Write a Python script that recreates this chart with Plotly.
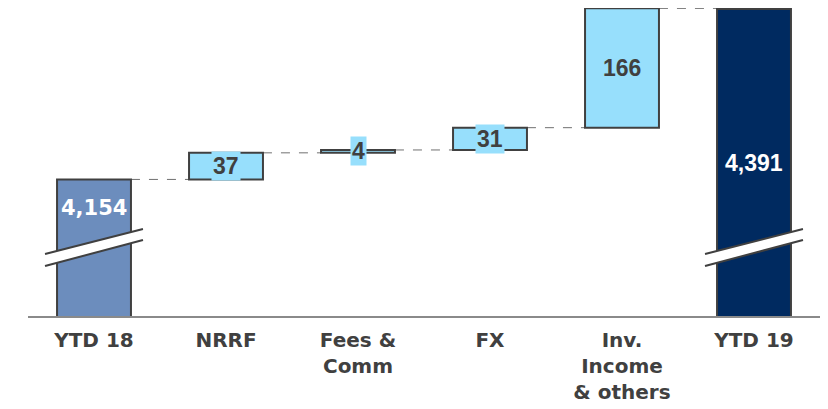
import plotly.graph_objects as go

categories = ["YTD 18", "NRRF", "Fees &<br>Comm", "FX", "Inv.<br>Income<br>& others", "YTD 19"]
start_value = 4154
deltas = [37, 4, 31, 166]
end_value = 4391
value_labels = ["4,154", "37", "4", "31", "166", "4,391"]

Y_MIN, Y_MAX = 3964, 4392.5
BAR_W = 0.56
C_START = "#6c8dbd"
C_END = "#002a60"
C_DELTA = "#97dffc"
OUTLINE = "#404040"

# cumulative bases for delta bars
bases = []
level = start_value
for d in deltas:
    bases.append(level)
    level += d

x_idx = list(range(len(categories)))
fig = go.Figure()
fig.add_trace(go.Bar(
    x=[x_idx[0], x_idx[-1]], y=[start_value, end_value],
    width=BAR_W, marker=dict(color=[C_START, C_END], line=dict(color=OUTLINE, width=2)),
    hoverinfo="skip"))
fig.add_trace(go.Bar(
    x=x_idx[1:-1], y=deltas, base=bases,
    width=BAR_W, marker=dict(color=C_DELTA, line=dict(color=OUTLINE, width=2)),
    hoverinfo="skip"))

# connectors
levels = [start_value] + [b + d for b, d in zip(bases, deltas)]
shapes = []
for i, lv in enumerate(levels):
    shapes.append(dict(type="line", xref="x", yref="y",
                       x0=i + BAR_W / 2, x1=i + 1 - BAR_W / 2, y0=lv, y1=lv,
                       line=dict(color="#707070", width=1, dash="dash"), layer="below"))

# axis break marks (screen pixel rows -> paper y; plot area spans rows 8..316)
TOP, H = 8.0, 308.0
def py(p):
    return 1 - (p - TOP) / H
half = 0.371
for xc in (x_idx[0], x_idx[-1]):
    x0, x1 = xc - half, xc + half
    ya0, ya1 = py(254), py(229)
    yb0, yb1 = py(266), py(240)
    shapes.append(dict(type="path", xref="x", yref="paper",
                       path=f"M {x0},{ya0} L {x1},{ya1} L {x1},{yb1} L {x0},{yb0} Z",
                       fillcolor="white", line=dict(width=0)))
    shapes.append(dict(type="line", xref="x", yref="paper", x0=x0, y0=ya0, x1=x1, y1=ya1,
                       line=dict(color=OUTLINE, width=2)))
    shapes.append(dict(type="line", xref="x", yref="paper", x0=x0, y0=yb0, x1=x1, y1=yb1,
                       line=dict(color=OUTLINE, width=2)))

annotations = []
annotations.append(dict(x=0, y=start_value, xref="x", yref="y", text="<b>" + value_labels[0] + "</b>",
                        showarrow=False, yshift=-29,
                        font=dict(family="DejaVu Sans", size=21, color="white")))
for i, (b, d) in enumerate(zip(bases, deltas)):
    annotations.append(dict(x=i + 1, y=b + d / 2, xref="x", yref="y",
                            text="<b>" + value_labels[i + 1] + "</b>", showarrow=False,
                            bgcolor=C_DELTA, borderpad=1,
                            font=dict(family="Liberation Sans, Arial", size=23, color=OUTLINE)))
annotations.append(dict(x=x_idx[-1], y=(Y_MIN + end_value) / 2, xref="x", yref="y",
                        text="<b>" + value_labels[-1] + "</b>", showarrow=False,
                        font=dict(family="Liberation Sans, Arial", size=23, color="white")))

fig.update_layout(
    width=820, height=401,
    margin=dict(l=20, r=8, t=0, b=93),
    paper_bgcolor="white", plot_bgcolor="white",
    showlegend=False, barmode="overlay",
    shapes=shapes, annotations=annotations,
    xaxis=dict(tickmode="array", tickvals=x_idx, ticktext=["<b>" + c + "</b>" for c in categories],
               range=[-0.5, len(categories) - 0.5], showline=True, linecolor="#8a8a8a", linewidth=2,
               showgrid=False, zeroline=False, ticks="", ticklabelstandoff=5,
               tickfont=dict(family="DejaVu Sans", size=20, color=OUTLINE)),
    yaxis=dict(range=[Y_MIN, Y_MAX], visible=False, showgrid=False, zeroline=False),
)
fig.write_html("out.html")
